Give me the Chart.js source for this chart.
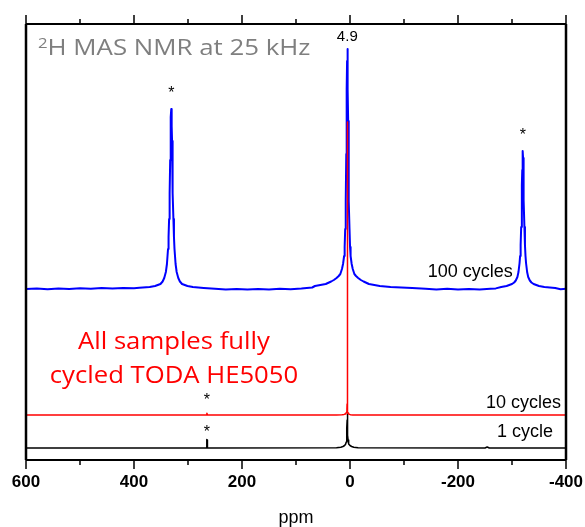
<!DOCTYPE html>
<html>
<head>
<meta charset="utf-8">
<script src="https://cdn.jsdelivr.net/npm/chart.js@4.4.1/dist/chart.umd.min.js"></script>
<style>
  html, body { margin: 0; padding: 0; background: #fff; }
  #wrap { width: 585px; height: 527px; position: relative; }
</style>
</head>
<body>
<div id="wrap"><canvas id="nmrChart"></canvas></div>
<script>
// x axis (ppm, reversed) ticks
const majorTicks = [600, 400, 200, 0, -200, -400];
const minorTicks = [500, 300, 100, -100, -300];
const xTitle = 'ppm';

// 100 cycles (blue), intensity above its own baseline
const ppm100 = [
  600, 580, 560, 540, 520, 500, 480, 460, 440, 420, 400, 390,
  371, 361, 356, 351, 347, 344, 341, 339, 337, 336, 335, 334, 333, 332.5, 332, 331.5, 331,
  330.5, 330, 329.5, 329, 328, 327, 326, 325, 323, 321, 318, 315, 311, 306, 301, 291, 271,
  250, 230, 210, 190, 170, 150, 130, 110, 90, 70,
  64.9, 44.9, 34.9, 29.9, 24.9, 20.9, 17.9, 14.9, 12.9, 10.9, 9.9, 8.9, 7.9, 6.9, 6.4, 5.9, 5.4, 4.9,
  4.4, 3.9, 3.4, 2.9, 1.9, 0.9, -0.1, -1.1, -3.1, -5.1, -8.1, -11.1, -15.1, -20.1, -25.1, -35.1, -55.1, -75.1, -115.1,
  -140, -160, -180, -200, -220, -240, -260, -270,
  -280, -290, -295, -300, -304, -307, -310, -312, -314, -315, -316, -317, -318, -318.5, -319, -319.5, -320,
  -320.5, -321, -321.5, -322, -323, -324, -325, -326, -328, -330, -333, -336, -340, -345, -350, -360, -380,
  -390, -400
];
const int100 = [
  0, 0.6, -0.3, 0.5, 0.1, 0.7, 0.2, 0.9, 0.4, 1.1, 0.8, 1.2,
  2, 3, 4, 5, 7.5, 11, 17, 25, 40, 52, 70, 96, 129, 148, 163, 172, 180,
  172, 163, 148, 129, 96, 70, 52, 40, 25, 17, 11, 7.5, 5, 4, 3, 2, 1,
  0.2, -0.4, 0.1, -0.6, 0, -0.5, 0.2, -0.3, 0.4, 1.5,
  3, 5, 7.5, 9, 11, 13, 15, 20, 25, 33, 42, 60, 88, 135, 168, 200, 228, 240,
  228, 200, 168, 135, 88, 60, 42, 33, 25, 20, 15, 13, 11, 9, 7.5, 5, 3, 2, 1,
  0.3, -0.6, 0.2, -0.5, 0.1, -0.4, 0.3, 0.6,
  2, 3, 4, 5, 6.5, 8.5, 12, 17, 26, 33, 44, 62, 89, 104, 119, 131, 138,
  131, 119, 104, 89, 62, 44, 33, 26, 17, 12, 8.5, 6.5, 5, 4, 3, 2, 1,
  -0.3, 0.2
];

// 10 cycles (red)
const ppm10 = [600, 266, 265, 264, 25, 15, 11, 9, 7.5, 6, 5.7, 5.4, 5.2, 5, 4.8, 4.6, 4.3, 4, 3.5, 2.5, 1, -1, -5, -15, -400];
const int10 = [0, 0, 1.8, 0, 0, 0.3, 0.6, 1, 1.8, 3, 6, 11, 25, 293, 25, 11, 6, 3, 1.8, 1, 0.6, 0.3, 0.1, 0, 0];

// 1 cycle (black)
const ppm1 = [600, 266, 265.4, 265, 264.6, 264, 25, 17, 13, 10, 8, 7, 6.5, 6, 5.6, 5.3, 5, 4.7, 4.4, 4, 3.5, 3, 2, 0, -3, -7, -15, -250, -254, -258, -400];
const int1 = [0, 0, 8, 8.5, 8, 0, 0.3, 0.8, 1.5, 2.5, 4, 6, 8, 13, 20, 28, 34, 28, 20, 13, 8, 6, 4, 2.5, 1.5, 0.8, 0.3, 0, 1, 0, 0];

const seriesNames = ['10 cycles', '100 cycles', '1 cycle'];
const seriesColors = ['#ff0000', '#0000ff', '#000000'];
const seriesOffsets = [45, 171, 12];

function toPoints(xs, ys, off) {
  return xs.map((x, i) => ({ x: x, y: ys[i] + off }));
}

// text drawn on the plot, anchored to data coordinates (sx = horizontal stretch)
const notes = [
  { text: '4.9', x: 5, y: 423, font: '15px "Liberation Sans"', color: '#000', align: 'center', base: 'middle', sx: 1 },
  { text: '*', x: 331, y: 366, font: '16px "Liberation Sans"', color: '#000', align: 'center', base: 'middle', sx: 1 },
  { text: '*', x: -320, y: 324, font: '16px "Liberation Sans"', color: '#000', align: 'center', base: 'middle', sx: 1 },
  { text: '*', x: 265, y: 59, font: '16px "Liberation Sans"', color: '#000', align: 'center', base: 'middle', sx: 1 },
  { text: '*', x: 265, y: 27, font: '16px "Liberation Sans"', color: '#000', align: 'center', base: 'middle', sx: 1 },
  { text: '100 cycles', x: -144, y: 188, font: '18px "Liberation Sans"', color: '#000', align: 'left', base: 'middle', sx: 1 },
  { text: '10 cycles', x: -252, y: 57, font: '18px "Liberation Sans"', color: '#000', align: 'left', base: 'middle', sx: 1 },
  { text: '1 cycle', x: -272, y: 28, font: '18px "Liberation Sans"', color: '#000', align: 'left', base: 'middle', sx: 1 },
  { text: 'All samples fully', x: 326, y: 111, font: '24px "Open Sans"', color: '#ff0000', align: 'center', base: 'alphabetic', sx: 1.07 },
  { text: 'cycled TODA HE5050', x: 326, y: 77, font: '24px "Open Sans"', color: '#ff0000', align: 'center', base: 'alphabetic', sx: 1.07 }
];

function stretchedText(ctx, text, x, y, sx) {
  ctx.save();
  ctx.translate(x, y);
  ctx.scale(sx, 1);
  ctx.fillText(text, 0, 0);
  ctx.restore();
}

// frame, outward ticks, tick labels and texts
const framePlugin = {
  id: 'frame',
  afterDatasetsDraw(chart) {
    const ctx = chart.ctx;
    const a = chart.chartArea;
    const xs = chart.scales.x;
    const ys = chart.scales.y;
    ctx.save();
    ctx.strokeStyle = '#000';
    ctx.lineWidth = 2;
    ctx.beginPath();
    ctx.moveTo(a.left, a.top); ctx.lineTo(a.right, a.top);
    ctx.moveTo(a.left, a.bottom); ctx.lineTo(a.right, a.bottom);
    ctx.stroke();
    ctx.lineWidth = 2.5;
    ctx.beginPath();
    ctx.moveTo(a.left, a.top); ctx.lineTo(a.left, a.bottom);
    ctx.moveTo(a.right, a.top); ctx.lineTo(a.right, a.bottom);
    ctx.stroke();
    ctx.lineWidth = 1.5;
    ctx.beginPath();
    majorTicks.forEach(v => {
      const px = xs.getPixelForValue(v);
      ctx.moveTo(px, a.top); ctx.lineTo(px, a.top - 9);
      ctx.moveTo(px, a.bottom); ctx.lineTo(px, a.bottom + 9);
    });
    minorTicks.forEach(v => {
      const px = xs.getPixelForValue(v);
      ctx.moveTo(px, a.top); ctx.lineTo(px, a.top - 5);
      ctx.moveTo(px, a.bottom); ctx.lineTo(px, a.bottom + 5);
    });
    ctx.stroke();

    // tick labels and axis title
    ctx.fillStyle = '#000';
    ctx.textAlign = 'center';
    ctx.textBaseline = 'middle';
    ctx.font = 'bold 17px "Liberation Sans"';
    majorTicks.forEach(v => {
      ctx.fillText(String(v), xs.getPixelForValue(v), a.bottom + 22);
    });
    ctx.font = '18px "Liberation Sans"';
    ctx.fillText(xTitle, (a.left + a.right) / 2, a.bottom + 58);

    // title with superscript
    ctx.fillStyle = '#7f7f7f';
    ctx.textBaseline = 'alphabetic';
    ctx.textAlign = 'left';
    ctx.font = '14px "Open Sans"';
    stretchedText(ctx, '2', 38, 48, 1.2);
    const w2 = ctx.measureText('2').width * 1.2;
    ctx.font = '21px "Open Sans"';
    stretchedText(ctx, 'H MAS NMR at 25 kHz', 38 + w2, 55, 1.23);

    notes.forEach(n => {
      ctx.font = n.font;
      ctx.fillStyle = n.color;
      ctx.textAlign = n.align;
      ctx.textBaseline = n.base;
      stretchedText(ctx, n.text, xs.getPixelForValue(n.x), ys.getPixelForValue(n.y), n.sx);
    });
    ctx.restore();
  }
};

const datasets = [
  { label: seriesNames[0], data: toPoints(ppm10, int10, seriesOffsets[0]), borderColor: seriesColors[0], borderWidth: 1.5 },
  { label: seriesNames[1], data: toPoints(ppm100, int100, seriesOffsets[1]), borderColor: seriesColors[1], borderWidth: 2 },
  { label: seriesNames[2], data: toPoints(ppm1, int1, seriesOffsets[2]), borderColor: seriesColors[2], borderWidth: 1.5 }
];

new Chart(document.getElementById('nmrChart'), {
  type: 'line',
  data: { datasets: datasets },
  options: {
    responsive: true,
    maintainAspectRatio: false,
    animation: false,
    layout: { padding: { left: 26, right: 19, top: 24, bottom: 67 } },
    elements: { point: { radius: 0 }, line: { tension: 0, fill: false, borderJoinStyle: 'round' } },
    plugins: { legend: { display: false }, tooltip: { enabled: false } },
    scales: {
      x: { type: 'linear', display: false, reverse: true, min: -400, max: 600 },
      y: { type: 'linear', display: false, min: 0, max: 436 }
    }
  },
  plugins: [framePlugin]
});
</script>
</body>
</html>
